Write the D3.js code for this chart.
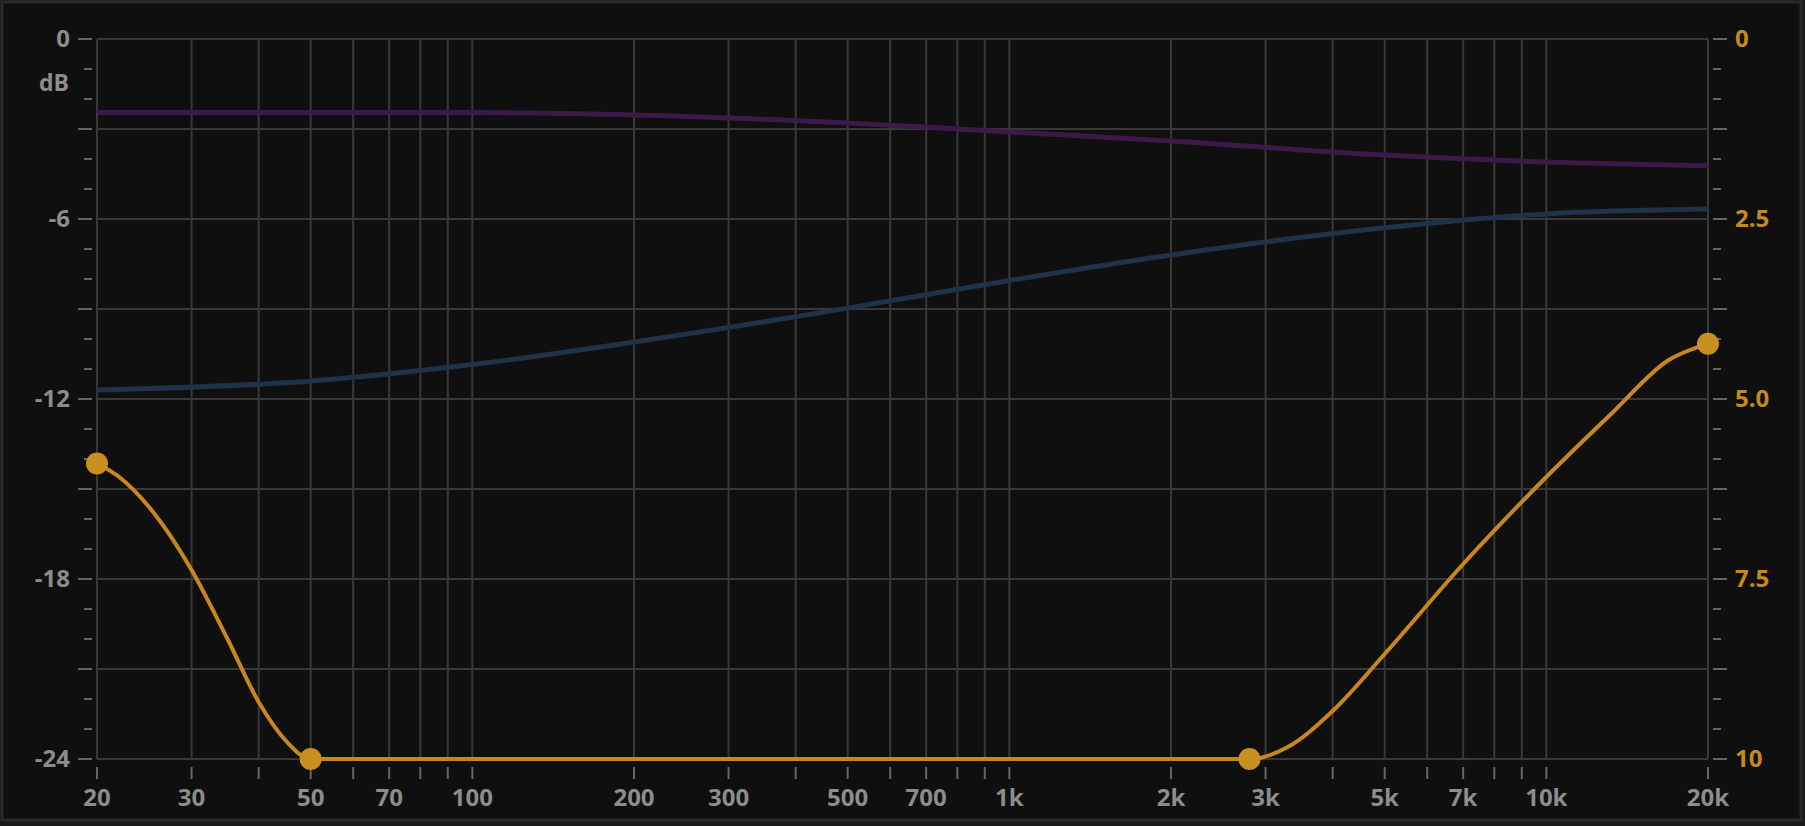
<!DOCTYPE html><html><head><script src="https://cdn.jsdelivr.net/npm/d3@7"></script>
<style>body{margin:0;background:#1a1a1a}</style></head><body><svg id="c" width="1805" height="826"></svg>
<script>
const freqTickLabels=[20,30,50,70,100,200,300,500,700,1000,2000,3000,5000,7000,10000,20000];
const freqGrid=[20,30,40,50,60,70,80,90,100,200,300,400,500,600,700,800,900,1000,2000,3000,4000,5000,6000,7000,8000,9000,10000,20000];
const dbLabels=[0,-6,-12,-18,-24];
const rightLabels=["0","2.5","5.0","7.5","10"];
const purpleF=[20,50,100,200,500,1000,2000,5000,10000,20000];
const purpleDb=[-2.45,-2.45,-2.45,-2.53,-2.8,-3.1,-3.4,-3.87,-4.1,-4.22];
const blueF=[20,50,100,200,500,1000,2000,5000,10000,20000];
const blueDb=[-11.7,-11.4,-10.85,-10.1,-8.97,-8.05,-7.2,-6.29,-5.83,-5.67];
const orangeF=[20,22,25,30,35,40,45,50,2800,3300,4000,5000,7000,10000,13200,16900,20000];
const orangeDb=[-14.15,-14.6,-15.6,-17.7,-20.0,-22.1,-23.4,-24,-24,-23.6,-22.4,-20.5,-17.5,-14.6,-12.5,-10.7,-10.16];
const nodeF=[20,50,2800,20000];
const nodeDb=[-14.15,-24,-24,-10.16];

const svg=d3.select("#c");
const L=97,R=1708,T=39,B=759;
svg.append("rect").attr("x",2).attr("y",2).attr("width",1799).attr("height",818).attr("fill","#0f0f0f").attr("stroke","#2a2a2a").attr("stroke-width",3);
const x=d3.scaleLog().domain([20,20000]).range([L,R]);
const y=d3.scaleLinear().domain([-24,0]).range([B,T]);
const g=svg.append("g");
freqGrid.forEach(f=>{g.append("line").attr("x1",x(f)).attr("x2",x(f)).attr("y1",T).attr("y2",B).attr("stroke","#383838").attr("stroke-width",2);
 g.append("line").attr("x1",x(f)).attr("x2",x(f)).attr("y1",B+8).attr("y2",B+20).attr("stroke","#666").attr("stroke-width",2);});
d3.range(-24,1,3).forEach(d=>g.append("line").attr("x1",L).attr("x2",R).attr("y1",y(d)).attr("y2",y(d)).attr("stroke","#383838").attr("stroke-width",2));
d3.range(-24,1,1).forEach(d=>{const long=d%3===0;
 g.append("line").attr("x1",long?78:84).attr("x2",92).attr("y1",y(d)).attr("y2",y(d)).attr("stroke","#666").attr("stroke-width",2);
 g.append("line").attr("x1",1713).attr("x2",long?1727:1721).attr("y1",y(d)).attr("y2",y(d)).attr("stroke","#666").attr("stroke-width",2);});
const font="'Open Sans',sans-serif";
dbLabels.forEach(d=>g.append("text").attr("x",70).attr("y",y(d)+8).attr("text-anchor","end").attr("font-family",font).attr("font-weight",700).attr("font-size",24).attr("fill","#8c8c8c").text(d));
g.append("text").attr("x",69).attr("y",91).attr("text-anchor","end").attr("font-family",font).attr("font-weight",700).attr("font-size",23).attr("fill","#8c8c8c").text("dB");
rightLabels.forEach((t,i)=>g.append("text").attr("x",1735).attr("y",y(-6*i)+8).attr("font-family",font).attr("font-weight",700).attr("font-size",24).attr("fill","#c58a1f").text(t));
const fmt=f=>f>=1000?(f/1000)+"k":f;
freqTickLabels.forEach(f=>g.append("text").attr("x",x(f)).attr("y",806).attr("text-anchor","middle").attr("font-family",font).attr("font-weight",700).attr("font-size",24).attr("fill","#8c8c8c").text(fmt(f)));
const line=d3.line().x(d=>x(d[0])).y(d=>y(d[1])).curve(d3.curveMonotoneX);
const zip=(a,b)=>a.map((v,i)=>[v,b[i]]);
g.append("path").attr("d",line(zip(purpleF,purpleDb))).attr("fill","none").attr("stroke","#3b1a4a").attr("stroke-width",5);
g.append("path").attr("d",line(zip(blueF,blueDb))).attr("fill","none").attr("stroke","#1f3247").attr("stroke-width",5);
g.append("path").attr("d",line(zip(orangeF,orangeDb))).attr("fill","none").attr("stroke","#c8861e").attr("stroke-width",4);
zip(nodeF,nodeDb).forEach(d=>g.append("circle").attr("cx",x(d[0])).attr("cy",y(d[1])).attr("r",11).attr("fill","#c8901e"));
</script></body></html>
